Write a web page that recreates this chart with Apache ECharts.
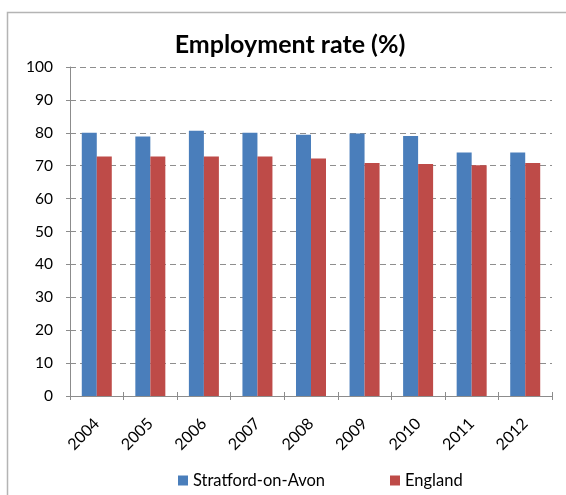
<!DOCTYPE html>
<html>
<head>
<meta charset="utf-8">
<script src="https://cdn.jsdelivr.net/npm/echarts@6/dist/echarts.min.js"></script>
<style>
  html, body { margin: 0; padding: 0; background: #ffffff; }
  #chart { width: 566px; height: 495px; }
</style>
</head>
<body>
<div id="chart"></div>
<script>
// Employment rate by year, Stratford-on-Avon vs England
const years = ['2004', '2005', '2006', '2007', '2008', '2009', '2010', '2011', '2012'];
const stratford = [80.0, 78.9, 80.6, 80.0, 79.4, 79.8, 79.0, 74.0, 74.0];
const england = [72.8, 72.8, 72.8, 72.8, 72.2, 70.8, 70.5, 70.1, 70.8];
const yTicks = [0, 10, 20, 30, 40, 50, 60, 70, 80, 90, 100];

const font = 'Lato, "Open Sans", "Liberation Sans", sans-serif';
const axisGrey = '#8c8c8c';
const chart = echarts.init(document.getElementById('chart'), null, { renderer: 'canvas' });

chart.setOption({
  backgroundColor: '#ffffff',
  animation: false,
  textStyle: { fontFamily: font },
  graphic: [
    {
      type: 'rect',
      shape: { x: 7.5, y: 12.5, width: 600, height: 520 },
      style: { fill: 'none', stroke: '#b4b4b4', lineWidth: 1.5 },
      silent: true
    },
    {
      type: 'text',
      x: 290,
      y: 45,
      style: {
        text: 'Employment rate (%)',
        font: 'bold 25px ' + font,
        fill: '#000000',
        align: 'center',
        verticalAlign: 'middle'
      },
      silent: true
    }
  ],
  legend: {
    data: ['Stratford-on-Avon', 'England'],
    top: 467,
    left: 173,
    itemWidth: 10,
    itemHeight: 10,
    itemGap: 65,
    icon: 'rect',
    textStyle: { fontFamily: font, fontSize: 16.5, color: '#000000' }
  },
  grid: { left: 70, right: 14, top: 67, bottom: 99, containLabel: false },
  xAxis: [
    {
      type: 'category',
      data: years,
      axisLine: { show: true, lineStyle: { color: axisGrey, width: 1 } },
      axisTick: { show: true, length: 4, lineStyle: { color: axisGrey } },
      axisLabel: { rotate: 45, fontSize: 16, color: '#000000', margin: 25, fontFamily: font },
      splitLine: { show: false }
    },
    {
      // inner half of the crossing tick marks
      type: 'category',
      data: years,
      position: 'bottom',
      axisLine: { show: false },
      axisTick: { show: true, inside: true, length: 4, lineStyle: { color: axisGrey } },
      axisLabel: { show: false },
      splitLine: { show: false }
    }
  ],
  yAxis: [
    {
      type: 'value',
      min: yTicks[0],
      max: yTicks[yTicks.length - 1],
      interval: 10,
      axisLine: { show: true, lineStyle: { color: axisGrey, width: 1 } },
      axisTick: { show: true, length: 4, lineStyle: { color: axisGrey } },
      axisLabel: { fontSize: 15.5, color: '#000000', margin: 17, fontFamily: font },
      splitLine: { show: true, lineStyle: { color: '#8e8e8e', type: [6, 4], width: 1 } }
    },
    {
      type: 'value',
      position: 'left',
      min: yTicks[0],
      max: yTicks[yTicks.length - 1],
      interval: 10,
      axisLine: { show: false },
      axisTick: { show: true, inside: true, length: 4, lineStyle: { color: axisGrey } },
      axisLabel: { show: false },
      splitLine: { show: false }
    }
  ],
  series: [
    {
      name: 'Stratford-on-Avon',
      type: 'bar',
      data: stratford,
      barWidth: 15,
      barGap: '0%',
      itemStyle: { color: '#4a7ebb' }
    },
    {
      name: 'England',
      type: 'bar',
      data: england,
      barWidth: 15,
      barGap: '0%',
      itemStyle: { color: '#be4b48' }
    }
  ]
});
</script>
</body>
</html>
